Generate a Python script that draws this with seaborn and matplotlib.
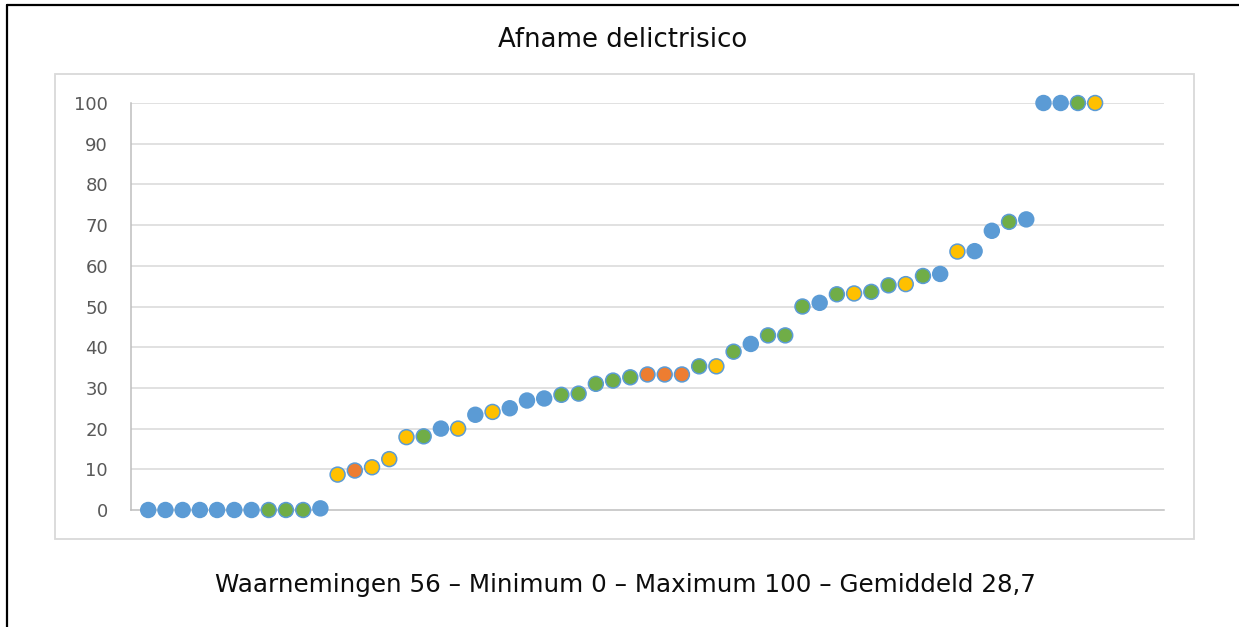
import matplotlib
matplotlib.use("Agg")
import matplotlib.pyplot as plt
from matplotlib.patches import Rectangle
from matplotlib.lines import Line2D
import pandas as pd
import seaborn as sns

# afname delictrisico per waarneming (gesorteerd)
waarden = [0, 0, 0, 0, 0, 0, 0, 0, 0, 0, 0.4,
           8.7, 9.7, 10.5, 12.5, 17.9, 18.1, 20.0, 20.0, 23.4, 24.1,
           25.0, 26.9, 27.4, 28.3, 28.6, 31.0, 31.8, 32.6, 33.3, 33.3,
           33.3, 35.3, 35.3, 38.9, 40.8, 42.9, 42.9, 50.0, 50.9, 53.0,
           53.2, 53.6, 55.2, 55.5, 57.5, 58.0, 63.5, 63.6, 68.6, 70.8,
           71.4, 100, 100, 100, 100]

# kleur per punt: B=blauw, G=groen, Y=geel, O=oranje
groep = ["B", "B", "B", "B", "B", "B", "B", "G", "G", "G", "B",
         "Y", "O", "Y", "Y", "Y", "G", "B", "Y", "B", "Y",
         "B", "B", "B", "G", "G", "G", "G", "G", "O", "O",
         "O", "G", "Y", "G", "B", "G", "G", "G", "B", "G",
         "Y", "G", "G", "Y", "G", "B", "Y", "B", "B", "G",
         "B", "B", "B", "G", "Y"]

kleuren = {"B": "#5B9BD5", "G": "#70AD47", "Y": "#FFC000", "O": "#ED7D31"}
yticks = [0, 10, 20, 30, 40, 50, 60, 70, 80, 90, 100]

titel = "Afname delictrisico"
onderschrift = "Waarnemingen 56 \u2013 Minimum 0 \u2013 Maximum 100 \u2013 Gemiddeld 28,7"

df = pd.DataFrame({"nr": range(1, len(waarden) + 1), "waarde": waarden, "groep": groep})

sns.set_style("white")
plt.rcParams["font.family"] = ["DejaVu Sans"]

fig = plt.figure(figsize=(12.39, 6.27), dpi=100)
ax = fig.add_axes([131 / 1239, 1 - 510 / 627, (1164 - 131) / 1239, (510 - 103) / 627])

for y in yticks[1:]:
    ax.axhline(y, color="#D9D9D9", lw=1.1, zorder=0)

sns.scatterplot(data=df, x="nr", y="waarde", hue="groep", palette=kleuren,
                s=115, edgecolor="#5B9BD5", linewidth=1.1, legend=False,
                ax=ax, clip_on=False, zorder=3)

ax.set_xlim(0, 60)
ax.set_ylim(0, 100)
ax.set_xticks([])
ax.set_yticks(yticks)
ax.set_yticklabels([str(t) for t in yticks])
ax.tick_params(axis="y", length=0, pad=16.5, labelsize=13, labelcolor="#595959")
ax.set_xlabel("")
ax.set_ylabel("")
for side in ["top", "right"]:
    ax.spines[side].set_visible(False)
for side in ["left", "bottom"]:
    ax.spines[side].set_color("#BFBFBF")
    ax.spines[side].set_linewidth(1.1)

# grijze kader rond het grafiekgebied
fig.patches.append(Rectangle((55 / 1239, 1 - 539 / 627), (1194 - 55) / 1239, (539 - 74) / 627,
                             transform=fig.transFigure, fill=False,
                             edgecolor="#D9D9D9", lw=1.3))
# zwarte rand, alleen boven en links zichtbaar
x0, y0 = 7 / 1239, 1 - 5 / 627
fig.lines.append(Line2D([x0, 1.0], [y0, y0], transform=fig.transFigure, color="black", lw=1.6))
fig.lines.append(Line2D([x0, x0], [0.0, y0], transform=fig.transFigure, color="black", lw=1.6))

fig.text(623 / 1239, 1 - 40 / 627, titel, ha="center", va="center", fontsize=18.7, color="#0D0D0D")
fig.text(625 / 1239, 1 - 585 / 627, onderschrift, ha="center", va="center", fontsize=17.7, color="#0D0D0D")

fig.savefig("out.png", dpi=100)
